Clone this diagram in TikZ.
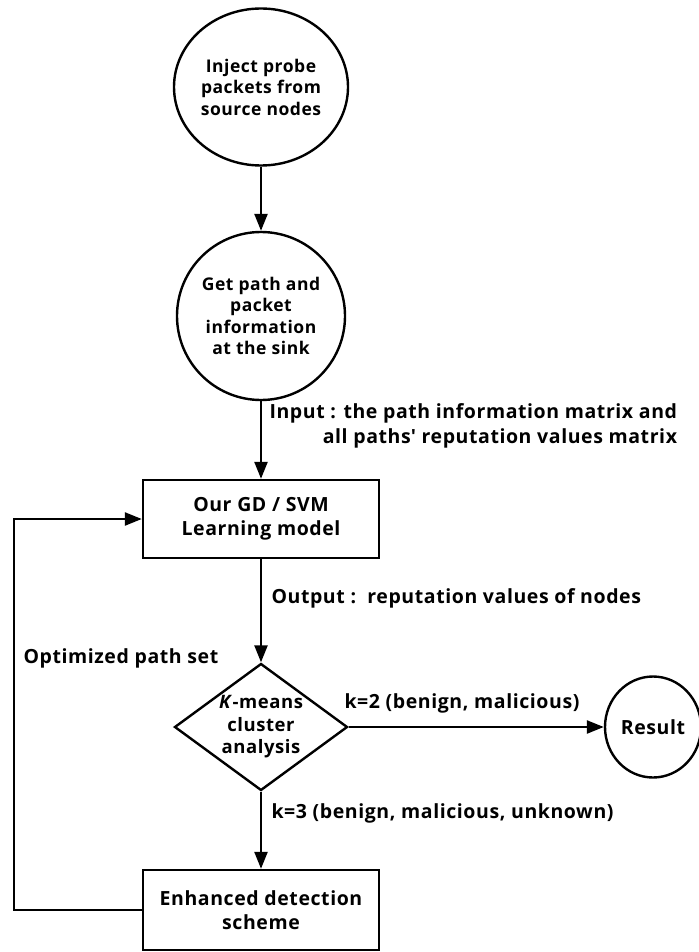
\documentclass[tikz,border=0pt]{standalone}
\usepackage{fontspec}
\setmainfont{Open Sans}[LetterSpace=3]
\usetikzlibrary{shapes.geometric,arrows.meta}
\begin{document}
\begin{tikzpicture}[x=1pt,y=-1pt,
    every node/.style={font=\bfseries\fontsize{19.5}{24.5}\selectfont, align=center},
    roundstep/.style={ellipse, draw, line width=2.4pt, inner sep=0pt,
        font=\bfseries\fontsize{17.5}{21.5}\selectfont},
    boxstep/.style={rectangle, draw, line width=2.4pt, minimum width=236pt, minimum height=78pt},
    decide/.style={diamond, draw, line width=2.4pt, aspect=1.35, inner sep=-9pt,
        minimum width=173pt, minimum height=127pt, font=\bfseries\fontsize{18.5}{22.5}\selectfont},
    flow/.style={line width=2.4pt, -{Triangle[length=17pt,width=13pt]}}]
\def\cx{261} % the main column
\useasboundingbox (0,0) rectangle (698,952); % keep the page size

\node[roundstep, minimum width=174pt, minimum height=157pt] (inject) at (\cx,87) {Inject probe\\packets from\\source nodes};
\node[roundstep, minimum width=168pt, minimum height=168pt] (sink) at (\cx,316) {Get path and\\packet\\information\\at the sink};
\node[boxstep] (model) at (\cx,519) {Our GD / SVM\\Learning model};
\node[decide] (kmeans) at (\cx,727) {\textit{K}-means\\cluster\\analysis};
\node[roundstep, minimum width=96pt, minimum height=101pt, font=\bfseries\fontsize{19.5}{24}\selectfont] (result) at (653,727) {Result};
\node[boxstep, minimum height=80pt] (enhance) at (\cx,910) {Enhanced detection\\scheme};
\coordinate (back) at (14,519); % corner of the feedback loop

%labels
\node[anchor=west, align=right] (inlab) at (266,426) {Input : the path information matrix and\\all paths\textquotesingle{} reputation values matrix};
\node[anchor=west] (outlab) at (268,598) {Output :~~reputation values of nodes};
\node[anchor=west] (optlab) at (20,658) {Optimized path set};
\node[anchor=west] (k2lab) at (341,703) {k=2 (benign, malicious)};
\node[anchor=west] (k3lab) at (268,813) {k=3 (benign, malicious, unknown)};

\draw[flow] (inject) -- (sink);
\draw[flow] (sink) -- (model);
\draw[flow] (model) -- (kmeans);
\draw[flow] (kmeans) -- (result);
\draw[flow] (kmeans) -- (enhance);
\draw[flow] (enhance.west) -| (back) -- (model.west);
\end{tikzpicture}
\end{document}
